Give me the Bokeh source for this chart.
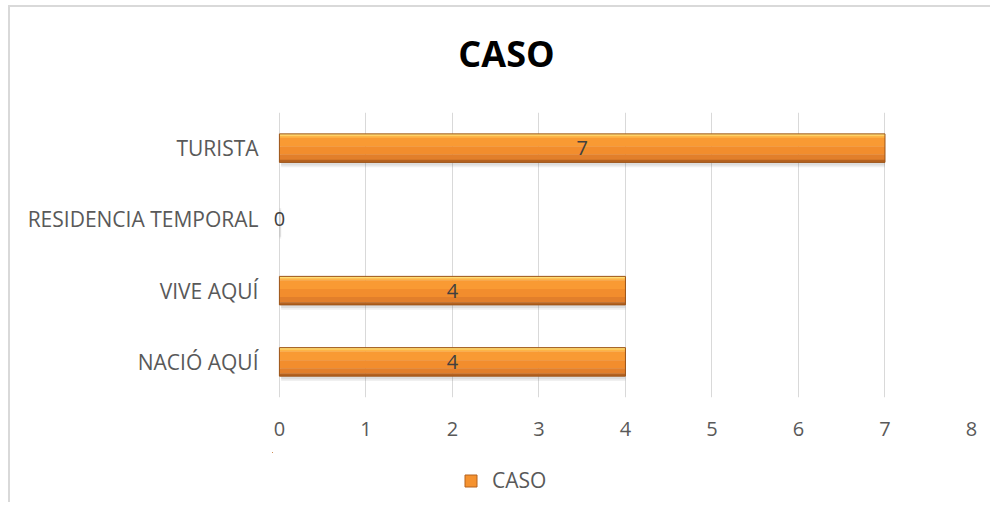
from bokeh.plotting import figure
from bokeh.layouts import column
from bokeh.models import ColumnDataSource, Legend, LegendItem, FactorRange, Label
from bokeh.transform import dodge
from bokeh.core.properties import value
from bokeh.embed import file_html
from bokeh.resources import INLINE

# ---- data ----
categories = ["NACIÓ AQUÍ", "VIVE AQUÍ", "RESIDENCIA TEMPORAL", "TURISTA"]
casos = [4, 4, 0, 7]
x_ticks = [0, 1, 2, 3, 4, 5, 6, 7, 8]
series_name = "CASO"
title_text = "CASO"

src = ColumnDataSource(dict(cat=categories, val=casos,
                            mid=[v / 2 for v in casos],
                            lab=[str(v) for v in casos],
                            vis=[1.0 if v > 0 else 0.0 for v in casos]))

FONT = "Open Sans"
BAR_H = 0.4
# bevel-like stripes (top offset, bottom offset, colour) – styling only
STRIPES = [(0.20, 0.17, "#FFDD72"), (0.17, 0.145, "#FDB447"), (0.145, 0.02, "#F99A33"),
           (0.02, -0.09, "#F28D2D"), (-0.09, -0.165, "#E27F2B"), (-0.165, -0.2, "#B5621F")]
W = 980
BL, BR = 262, 19

# ---- title strip ----
p0 = figure(width=W, height=100, x_range=(-0.08, 8), y_range=(0, 1),
            output_backend="svg", toolbar_location=None,
            x_axis_type=None, y_axis_type=None, min_border=0,
            min_border_left=BL, min_border_right=BR)
p0.outline_line_color = None
p0.grid.grid_line_color = None
p0.add_layout(Label(x=234, y=54, x_units="screen", y_units="screen", text=title_text,
                    text_font=FONT, text_font_size="36px", text_font_style="bold",
                    text_color="black", text_align="center",
                    text_baseline="alphabetic"))

# ---- main chart ----
p = figure(width=W, height=345, y_range=FactorRange(*categories),
           x_range=(-0.08, 8), output_backend="svg", toolbar_location=None,
           min_border_left=BL, min_border_right=BR, min_border_top=5,
           min_border_bottom=55)
p.outline_line_color = None
p.background_fill_color = "white"

# shadow
for off, a in [(-0.07, 0.10), (-0.045, 0.14)]:
    p.hbar(y=dodge("cat", off, range=p.y_range), left=0.02, right="val", height=BAR_H,
           source=src, fill_color="#6f6f6f", fill_alpha=a, line_color=None)
# main bar (stripes)
for top, bot, col in STRIPES:
    p.hbar(y=dodge("cat", (top + bot) / 2, range=p.y_range), left=0, right="val",
           height=top - bot + 0.004, source=src, fill_color=col, fill_alpha="vis",
           line_color=None)
# outline
p.hbar(y="cat", left=0, right="val", height=BAR_H, source=src,
       fill_color=None, line_color="#9C5418", line_width=1, line_alpha="vis")

# value labels
p.text(x="mid", y="cat", text="lab", source=src, text_align="center",
       text_baseline="middle", text_font=value(FONT), text_font_size="20px",
       text_color="#404040")

# axes
p.xaxis.ticker = x_ticks
p.xaxis.axis_line_color = None
p.yaxis.axis_line_color = None
p.xaxis.major_tick_line_color = None
p.xaxis.minor_tick_line_color = None
p.yaxis.major_tick_line_color = None
p.yaxis.minor_tick_line_color = None
for ax in (p.xaxis, p.yaxis):
    ax.major_label_text_font = FONT
    ax.major_label_text_color = "#595959"
p.xaxis.major_label_text_font_size = "20px"
p.yaxis.major_label_text_font_size = "21px"
p.xaxis.major_label_standoff = 18
p.yaxis.major_label_standoff = 8
p.xgrid.grid_line_color = "#D9D9D9"
p.ygrid.grid_line_color = None

# ---- legend strip: bars lie far outside its ranges, only the legend entry shows ----
p2 = figure(width=W, height=50, y_range=FactorRange(*categories),
            x_range=(20, 21), output_backend="svg", toolbar_location=None,
            x_axis_type=None, y_axis_type=None, min_border=0,
            min_border_left=BL, min_border_right=BR)
p2.outline_line_color = None
p2.grid.grid_line_color = None
leg_r = p2.hbar(y=dodge("cat", 50, range=p2.y_range), left=0, right="val",
                height=BAR_H, source=src, fill_color="#F5922F",
                line_color="#B5621F", line_width=1)
legend = Legend(items=[LegendItem(label=series_name, renderers=[leg_r])],
                location=(191, 8), orientation="horizontal",
                glyph_width=15, glyph_height=15, label_standoff=14, padding=0,
                margin=0, border_line_color=None, background_fill_alpha=0,
                label_text_font=FONT, label_text_font_size="21px",
                label_text_color="#595959")
p2.add_layout(legend, "center")

layout = column(p0, p, p2, spacing=0,
                styles={"border-left": "2px solid #D9D9D9",
                        "border-top": "2px solid #D9D9D9",
                        "margin-left": "8px", "margin-top": "5px"})

open("out.html", "w").write(file_html(layout, INLINE))
